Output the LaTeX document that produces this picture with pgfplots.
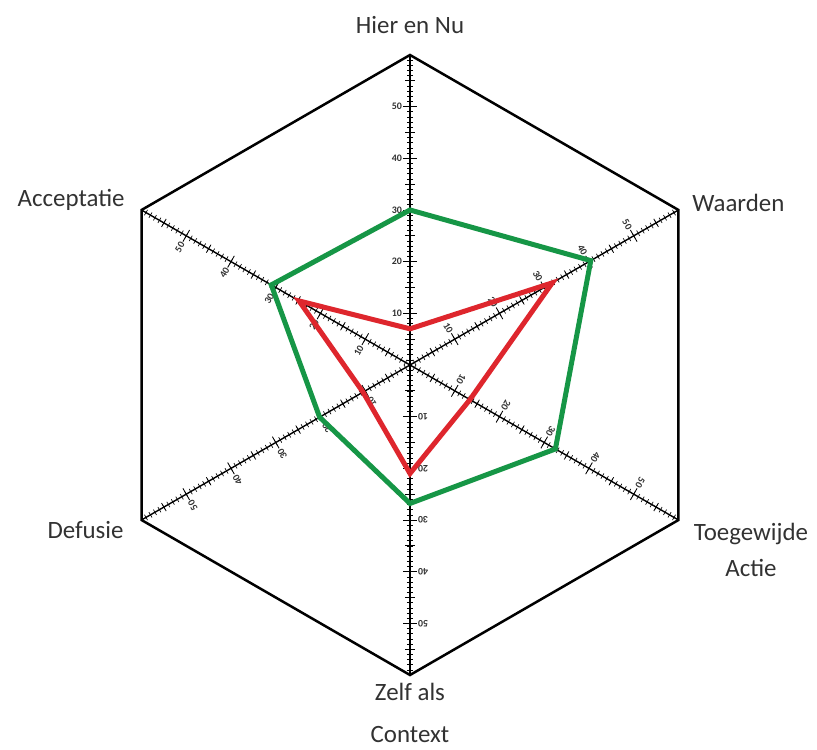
\documentclass[border=0pt]{standalone}
\usepackage{pgfplots}
\pgfplotsset{compat=1.18}
\usepackage{fontspec}
\setmainfont{Carlito}
\definecolor{cgreen}{RGB}{22,150,70}
\definecolor{cred}{RGB}{222,38,45}
\definecolor{ctext}{RGB}{50,50,50}
\begin{document}
\begin{tikzpicture}
\begin{scope}[x=5.167bp,y=5.167bp]
\path (-79.35,-74.32) rectangle (78.77,70.64);
\foreach \a in {90,30,-30,-90,-150,150}{
 \begin{scope}[rotate=\a]
  \draw[line width=1.4bp] (0,0) -- (60,0);
  \foreach \r in {1,...,59}{\draw[line width=0.65bp] (\r,-0.6) -- (\r,0.6);}
  \foreach \r in {5,15,...,55}{\draw[line width=0.75bp] (\r,-0.9) -- (\r,0.9);}
  \foreach \r in {10,20,...,50}{\draw[line width=0.85bp] (\r,-1.3) -- (\r,1.3);
     \node[rotate=\a-90, anchor=east, inner sep=0.3bp, text=ctext, font=\fontsize{10}{10}\selectfont\bfseries] at (\r,1.45) {\r};}
 \end{scope}}
\end{scope}
\begin{axis}[at={(0,0)}, anchor=origin, x=5.167bp, y=5.167bp,
  xmin=-79.35, xmax=78.77, ymin=-74.32, ymax=70.64, hide axis, clip=false]
\addplot[black, line width=2.5bp, line join=miter, data cs=polar] coordinates {
 (90,60) (30,60) (-30,60) (-90,60) (-150,60) (150,60)} -- cycle;
\addplot[cgreen, line width=5bp, line join=miter, data cs=polar] coordinates {
 (90,30) (30,40.4) (-30,32.5) (-90,26.8) (-150,20.2) (150,31)} -- cycle;
\addplot[cred, line width=5bp, line join=miter, data cs=polar] coordinates {
 (90,7) (30,31.8) (-30,13.4) (-90,21) (-150,10.5) (150,24.8)} -- cycle;
\end{axis}
\begin{scope}[x=5.167bp,y=5.167bp, every node/.style={text=ctext, font=\fontsize{25}{36}\selectfont, inner sep=0pt}]
\node at (0,65.8) {Hier en Nu};
\node[anchor=west] at (54.6,31.4) {Waarden};
\node[align=center] at (66.0,-35.8) {Toegewijde\\Actie};
\node[align=center] at (0,-67.4) {Zelf als\\[6bp]Context};
\node[anchor=east] at (-55.4,-31.9) {Defusie};
\node[anchor=east] at (-55.2,31.9) {Acceptatie};
\end{scope}
\end{tikzpicture}
\end{document}
